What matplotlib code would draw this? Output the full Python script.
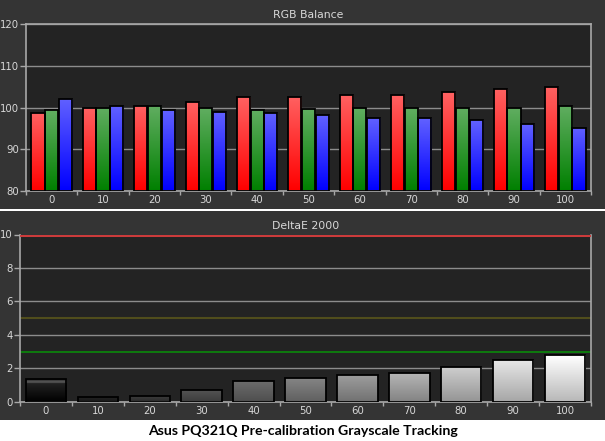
import numpy as np
import matplotlib
matplotlib.use("Agg")
import matplotlib.pyplot as plt
from matplotlib.patches import Rectangle

# ---- data ----
levels = [0, 10, 20, 30, 40, 50, 60, 70, 80, 90, 100]
red_vals = [98.8, 99.8, 100.4, 101.4, 102.4, 102.6, 102.9, 103.1, 103.6, 104.5, 104.8]
green_vals = [99.4, 100.0, 100.4, 100.0, 99.5, 99.7, 100.0, 100.0, 100.0, 100.0, 100.4]
blue_vals = [102.1, 100.4, 99.4, 99.0, 98.6, 98.1, 97.6, 97.4, 96.9, 96.0, 95.2]
delta_e = [1.35, 0.28, 0.34, 0.68, 1.24, 1.39, 1.57, 1.69, 2.05, 2.47, 2.77]
rgb_ticks = [80, 90, 100, 110, 120]
de_ticks = [0, 2, 4, 6, 8, 10]
title_top = "RGB Balance"
title_bottom = "DeltaE 2000"
caption = "Asus PQ321Q Pre-calibration Grayscale Tracking"

W, H = 605, 441
fig = plt.figure(figsize=(W / 100, H / 100), dpi=100)
fig.patch.set_facecolor("white")

def fy(py):
    return 1 - py / H

# panel backgrounds
panel_bg = "#343434"
fig.patches.append(Rectangle((0, fy(208.5)), 1, 208.5 / H, transform=fig.transFigure,
                             facecolor=panel_bg, edgecolor="none", zorder=-10))
fig.patches.append(Rectangle((0, fy(420)), 1, (420 - 210.5) / H, transform=fig.transFigure,
                             facecolor=panel_bg, edgecolor="none", zorder=-10))

plot_bg = "#232323"
grid_c = "#8c8c8c"
spine_c = "#a8a8a8"
text_c = "#d8d8d8"
tick_fs = 7.3

def style_axes(ax):
    ax.set_facecolor(plot_bg)
    for s in ax.spines.values():
        s.set_color(spine_c)
        s.set_linewidth(1.2)
    ax.tick_params(axis="y", colors=spine_c, labelcolor=text_c, labelsize=tick_fs,
                   length=4, width=1, direction="out", pad=1)
    ax.tick_params(axis="x", which="major", length=0, labelcolor=text_c, labelsize=tick_fs, pad=3)
    ax.tick_params(axis="x", which="minor", length=3, width=1, colors=spine_c, direction="out")

def gradient_bar(ax, patch, top_rgb, bottom_rgb, highlight=None):
    x, y = patch.get_x(), patch.get_y()
    w, h = patch.get_width(), patch.get_height()
    n = 64
    t = np.linspace(0, 1, n)[:, None]  # 0 at top row
    top = np.array(top_rgb)[None, :]
    bot = np.array(bottom_rgb)[None, :]
    img = top * (1 - t) + bot * t
    if highlight is not None:
        band = (t[:, 0] > 0.06) & (t[:, 0] < 0.16)
        img[band] = np.array(highlight)
    img = img[:, None, :].repeat(2, axis=1)
    im = ax.imshow(img, extent=(x, x + w, y, y + h), aspect="auto", zorder=2,
                   interpolation="bilinear", origin="upper")
    im.set_clip_path(patch)

x = np.arange(len(levels))

# ---- top: RGB balance ----
ax1 = fig.add_axes([26 / W, fy(191), 565 / W, (191 - 24) / H])
style_axes(ax1)
bw = 0.255
series = [
    (red_vals, -bw - 0.012, (1.0, 0.38, 0.38), (1.0, 0.0, 0.0)),
    (green_vals, 0.0, (0.38, 0.68, 0.38), (0.0, 0.50, 0.0)),
    (blue_vals, bw + 0.012, (0.38, 0.38, 1.0), (0.0, 0.0, 1.0)),
]
for vals, off, ctop, cbot in series:
    bars = ax1.bar(x + off, np.array(vals) - 80, bw, bottom=80, facecolor="none",
                   edgecolor="black", linewidth=1.3, zorder=3)
    for p in bars.patches:
        gradient_bar(ax1, p, ctop, cbot)
ax1.set_xlim(-0.5, 10.5)
ax1.set_ylim(80, 120)
ax1.set_yticks(rgb_ticks)
ax1.set_xticks(x)
ax1.set_xticklabels([str(v) for v in levels])
ax1.set_xticks(np.arange(-0.5, 11, 1), minor=True)
ax1.yaxis.grid(True, color=grid_c, linewidth=1)
ax1.set_axisbelow(True)
ax1.set_title(title_top, color=text_c, fontsize=7.8, pad=4)

# ---- bottom: DeltaE ----
ax2 = fig.add_axes([20 / W, fy(401.7), 571 / W, (401.7 - 234.5) / H])
style_axes(ax2)
bars = ax2.bar(x, delta_e, 0.78, facecolor="none", edgecolor="black",
               linewidth=1.3, zorder=3)
for lv, p in zip(levels, bars.patches):
    v = 0.04 + 0.96 * lv / 100
    top = (v, v, v)
    b = v * 0.72
    bot = (b, b, b)
    hl = None
    if lv == 0:
        top = (0.16, 0.16, 0.16)
        bot = (0.0, 0.0, 0.0)
        hl = (0.32, 0.32, 0.32)
    gradient_bar(ax2, p, top, bot, highlight=hl)
ax2.axhline(10, color="#cc3b3b", linewidth=2.2, zorder=4)
ax2.axhline(5, color="#504d1c", linewidth=1.5, zorder=1)
ax2.axhline(3, color="#0a8a0a", linewidth=1.2, zorder=1)
ax2.set_xlim(-0.5, 10.5)
ax2.set_ylim(0, 10)
ax2.set_yticks(de_ticks)
ax2.set_xticks(x)
ax2.set_xticklabels([str(v) for v in levels])
ax2.set_xticks(np.arange(-0.5, 11, 1), minor=True)
ax2.yaxis.grid(True, color=grid_c, linewidth=1)
ax2.set_axisbelow(True)
ax2.spines["top"].set_visible(False)
ax2.set_title(title_bottom, color=text_c, fontsize=7.8, pad=4)

fig.text(0.5, fy(431), caption, ha="center", va="center", fontsize=10.2,
         fontweight="bold", color="black", family=["Lato", "DejaVu Sans"])

fig.savefig("out.png", dpi=100)
